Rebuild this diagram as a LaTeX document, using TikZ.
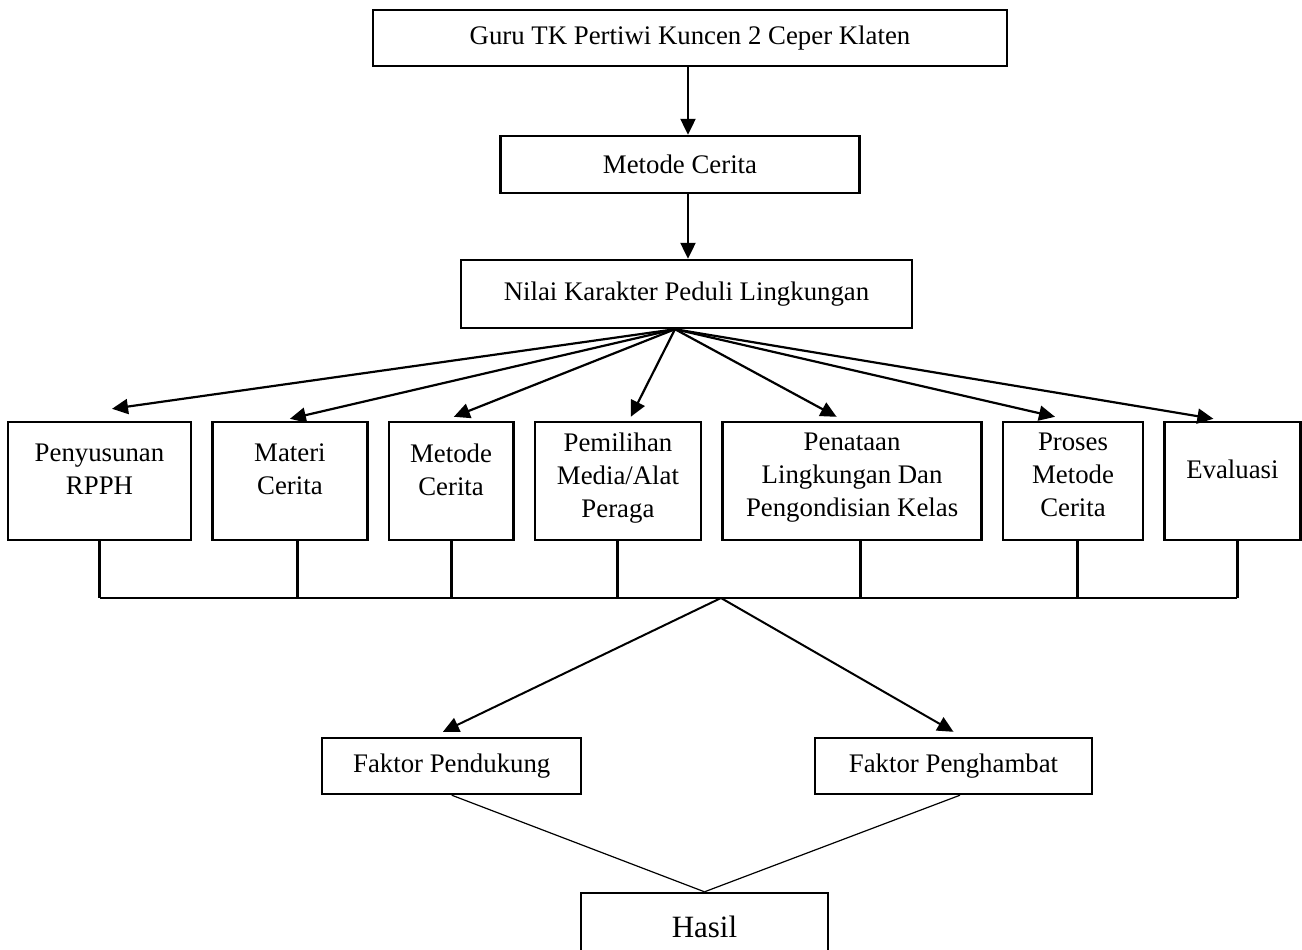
\documentclass[tikz,border=0pt]{standalone}
\usepackage{fontspec}
\setmainfont{Liberation Serif}
\usetikzlibrary{arrows.meta,positioning}
\tikzset{
  kotak/.style={rectangle, draw=black, line width=1.2pt, align=center, inner sep=2pt},
  tahap/.style={kotak, minimum height=59pt, text depth=6pt},
  faktor/.style={kotak, minimum width=#1, minimum height=28pt},
  panah/.style={-{Triangle[length=8pt,width=7.5pt]}, line width=1.1pt},
  turun/.style={line width=1.5pt},
  garis/.style={line width=0.6pt},
}

\begin{document}
\begin{tikzpicture}[x=0.5pt, y=-0.5pt, node distance=9.5pt, font=\fontsize{13.4}{16.5}\selectfont]
  \useasboundingbox (0,0) rectangle (1302,949);
  % alur atas
  \node[kotak, minimum width=317pt, minimum height=28pt] (guru) at (690,38) {Guru TK Pertiwi Kuncen 2 Ceper Klaten};
  \node[kotak, minimum width=179.5pt, minimum height=28.5pt] (metode) at (680,164.5) {Metode Cerita};
  \node[kotak, minimum width=225.5pt, minimum height=34pt] (nilai) at (686.5,294) {Nilai Karakter Peduli Lingkungan};
  \draw[panah] ([xshift=-1pt]guru.south) -- ([xshift=-1pt]guru.south |- metode.north);
  \draw[panah] ([xshift=-1pt]guru.south |- metode.south) -- ([xshift=-1pt]guru.south |- nilai.north);

  % tahapan
  \node[tahap, minimum width=91.5pt, text depth=11.5pt] (rpph) at (99.5,481) {Penyusunan\\RPPH};
  \node[tahap, minimum width=77.5pt, text depth=11.5pt, right=of rpph] (materi) {Materi\\Cerita};
  \node[tahap, minimum width=62.25pt, text depth=11.5pt, right=of materi] (metcer) {Metode\\Cerita};
  \node[tahap, minimum width=83.25pt, right=of metcer] (media) {Pemilihan\\Media/Alat\\Peraga};
  \node[tahap, minimum width=129.5pt, right=of media] (penataan) {Penataan\\Lingkungan Dan\\Pengondisian Kelas};
  \node[tahap, minimum width=70pt, right=of penataan] (proses) {Proses\\Metode\\Cerita};
  \node[tahap, minimum width=68pt, text depth=12pt, right=of proses] (evaluasi) {Evaluasi};

  \coordinate (pusat) at ([xshift=-5.75pt]nilai.south);
  \draw[panah] (pusat) -- ([xshift=6.25pt,yshift=6pt]rpph.north);
  \draw[panah] (pusat) -- ([yshift=1pt]materi.north);
  \draw[panah] (pusat) -- ([xshift=1.4pt,yshift=2pt]metcer.north);
  \draw[panah] (pusat) -- ([xshift=6.4pt,yshift=2pt]media.north);
  \draw[panah] (pusat) -- ([xshift=-7.75pt,yshift=2pt]penataan.north);
  \draw[panah] (pusat) -- ([xshift=-9pt,yshift=2pt]proses.north);
  \draw[panah] (pusat) -- ([xshift=-9.5pt,yshift=1pt]evaluasi.north);

  % garis gabung
  \coordinate (bus) at (0,598);
  \draw[turun] (rpph.south) -- (rpph.south |- bus);
  \draw[turun] ([xshift=3.75pt]materi.south) -- ([xshift=3.75pt]materi.south |- bus);
  \draw[turun] (metcer.south) -- (metcer.south |- bus);
  \draw[turun] (media.south) -- (media.south |- bus);
  \draw[turun] ([xshift=4.25pt]penataan.south) -- ([xshift=4.25pt]penataan.south |- bus);
  \draw[turun] ([xshift=2pt]proses.south) -- ([xshift=2pt]proses.south |- bus);
  \draw[turun] ([xshift=2.5pt]evaluasi.south) -- ([xshift=2.5pt]evaluasi.south |- bus);
  \draw[line width=0.8pt] (rpph.south |- bus) -- ([xshift=2.5pt]evaluasi.south |- bus);

  % faktor dan hasil
  \coordinate (puncak) at (721,598);
  \node[faktor=129.5pt] (pendukung) at (451.75,766) {Faktor Pendukung};
  \node[faktor=138.5pt] (penghambat) at (953.5,766) {Faktor Penghambat};
  \node[kotak, minimum width=123.5pt, minimum height=34pt, font=\fontsize{15.5}{18}\selectfont] (hasil) at (704.5,927) {Hasil};
  \draw[panah, line width=1pt] (puncak) -- ([xshift=-4.4pt,yshift=2.5pt]pendukung.north);
  \draw[panah, line width=1pt] (puncak) -- ([yshift=2.5pt]penghambat.north);
  \draw[garis] (pendukung.south) -- (hasil.north);
  \draw[garis] ([xshift=3.25pt]penghambat.south) -- (hasil.north);
\end{tikzpicture}
\end{document}
